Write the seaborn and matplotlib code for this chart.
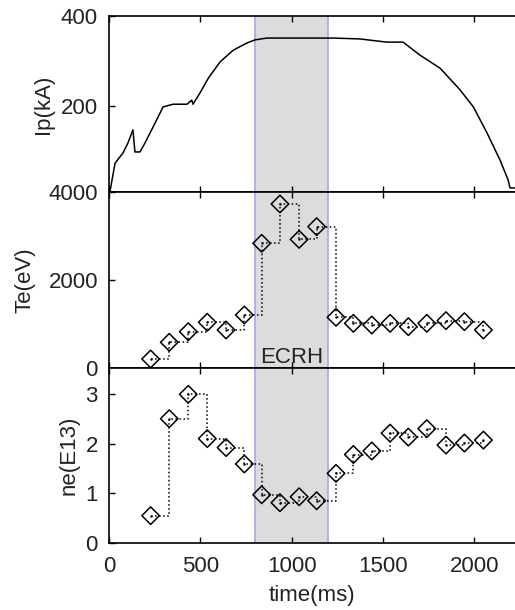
import numpy as np
import pandas as pd
import matplotlib
matplotlib.use("Agg")
import matplotlib.pyplot as plt
import seaborn as sns

# ── Data ─────────────────────────────────────────────────────────────────────
ip_time = [5, 33, 77, 104, 131, 142, 170, 197, 252, 296, 351, 427, 453, 460,
           498, 544, 608, 680, 755, 800, 864, 1230, 1375, 1520, 1610, 1703,
           1813, 1922, 1995, 2070, 2141, 2185, 2196, 2223]
ip_ka = [9, 73, 96, 118, 147, 98, 98, 118, 162, 198, 204, 204, 213, 204,
         229, 262, 298, 324, 340, 347, 351, 351, 349, 342, 342, 313,
         284, 236, 198, 140, 80, 36, 18, 18]

shot_time = [228, 330, 434, 538, 641, 741, 836, 936, 1041, 1137, 1243, 1338,
             1439, 1539, 1639, 1740, 1845, 1946, 2050]
te_ev = [205, 584, 825, 1039, 864, 1205, 2833, 3727, 2924, 3212, 1152, 1015,
         977, 1015, 939, 1015, 1076, 1053, 864]
ne_e13 = [0.55, 2.50, 2.99, 2.10, 1.92, 1.59, 0.97, 0.81, 0.93, 0.85, 1.40,
          1.78, 1.85, 2.21, 2.13, 2.30, 1.97, 2.01, 2.07]

ECRH_START, ECRH_END = 800, 1200
XMAX = 2223

sns.set_style("ticks")
plt.rcParams["font.family"] = ["Liberation Sans", "DejaVu Sans"]
plt.rcParams["font.size"] = 16
plt.rcParams["text.color"] = "black"
plt.rcParams["axes.labelcolor"] = "black"

fig = plt.figure(figsize=(5.15, 6.10), dpi=100)
left, width = 109 / 515, 1 - 109 / 515
ax_ip = fig.add_axes([left, 1 - 192 / 610, width, 176 / 610])
ax_te = fig.add_axes([left, 1 - 368 / 610, width, 176 / 610])
ax_ne = fig.add_axes([left, 1 - 543 / 610, width, 175 / 610])

ip_df = pd.DataFrame({"t": ip_time, "ip": ip_ka})
shot_df = pd.DataFrame({"t": shot_time, "te": te_ev, "ne": ne_e13})


def shade(ax):
    ax.axvspan(ECRH_START, ECRH_END, color="#dcdcdc", lw=0, zorder=0)
    for xv in (ECRH_START, ECRH_END):
        ax.axvline(xv, color="#a4aae4", lw=1.2, zorder=1)


def profile(ax, col):
    sns.lineplot(data=shot_df, x="t", y=col, ax=ax, color="black", lw=1.1,
                 linestyle=":", drawstyle="steps-post", estimator=None,
                 zorder=2)
    sns.scatterplot(data=shot_df, x="t", y=col, ax=ax, marker="D", s=80,
                    facecolor="none", edgecolor="black", linewidth=1.1,
                    zorder=3)
    sns.scatterplot(data=shot_df, x="t", y=col, ax=ax, marker="o", s=3,
                    color="black", linewidth=0, zorder=3)


# ── Ip ────────────────────────────────────────────────────────────────────────
shade(ax_ip)
sns.lineplot(data=ip_df, x="t", y="ip", ax=ax_ip, color="black", lw=1.1,
             estimator=None, sort=False, zorder=2)
ax_ip.set_ylim(9, 400)
ax_ip.set_yticks([200, 400])

# ── Te ────────────────────────────────────────────────────────────────────────
shade(ax_te)
profile(ax_te, "te")
ax_te.set_ylim(0, 4000)
ax_te.set_yticks([0, 2000, 4000])
ax_te.text(1000, 110, "ECRH", ha="center", va="baseline", fontsize=16,
           color="#222222")

# ── ne ────────────────────────────────────────────────────────────────────────
shade(ax_ne)
profile(ax_ne, "ne")
ax_ne.set_ylim(0, 3.52)
ax_ne.set_yticks([0, 1, 2, 3])

label_x = {ax_ip: -0.135, ax_te: -0.18, ax_ne: -0.072}
for ax, lab in [(ax_ip, "Ip(kA)"), (ax_te, "Te(eV)"), (ax_ne, "ne(E13)")]:
    ax.set_xlim(0, XMAX)
    ax.set_xticks([0, 500, 1000, 1500, 2000])
    ax.tick_params(axis="both", direction="in", length=4, width=1,
                   top=True, right=False, colors="black",
                   labelcolor="#222222")
    ax.tick_params(axis="y", pad=8)
    ax.tick_params(axis="x", pad=9)
    ax.set_ylabel(lab, color="#222222")
    ax.yaxis.set_label_coords(label_x[ax], 0.5)
    ax.set_xlabel("")
    ax.spines["right"].set_visible(False)
    for sp in ax.spines.values():
        sp.set_color("black")
        sp.set_linewidth(1.2)
        sp.set_zorder(5)
    ax.set_facecolor("white")

ax_ip.tick_params(labelbottom=False)
ax_te.tick_params(labelbottom=False)
ax_ne.set_xlabel("time(ms)", labelpad=6, color="#222222")

fig.savefig("out.png", dpi=100, facecolor="white")
